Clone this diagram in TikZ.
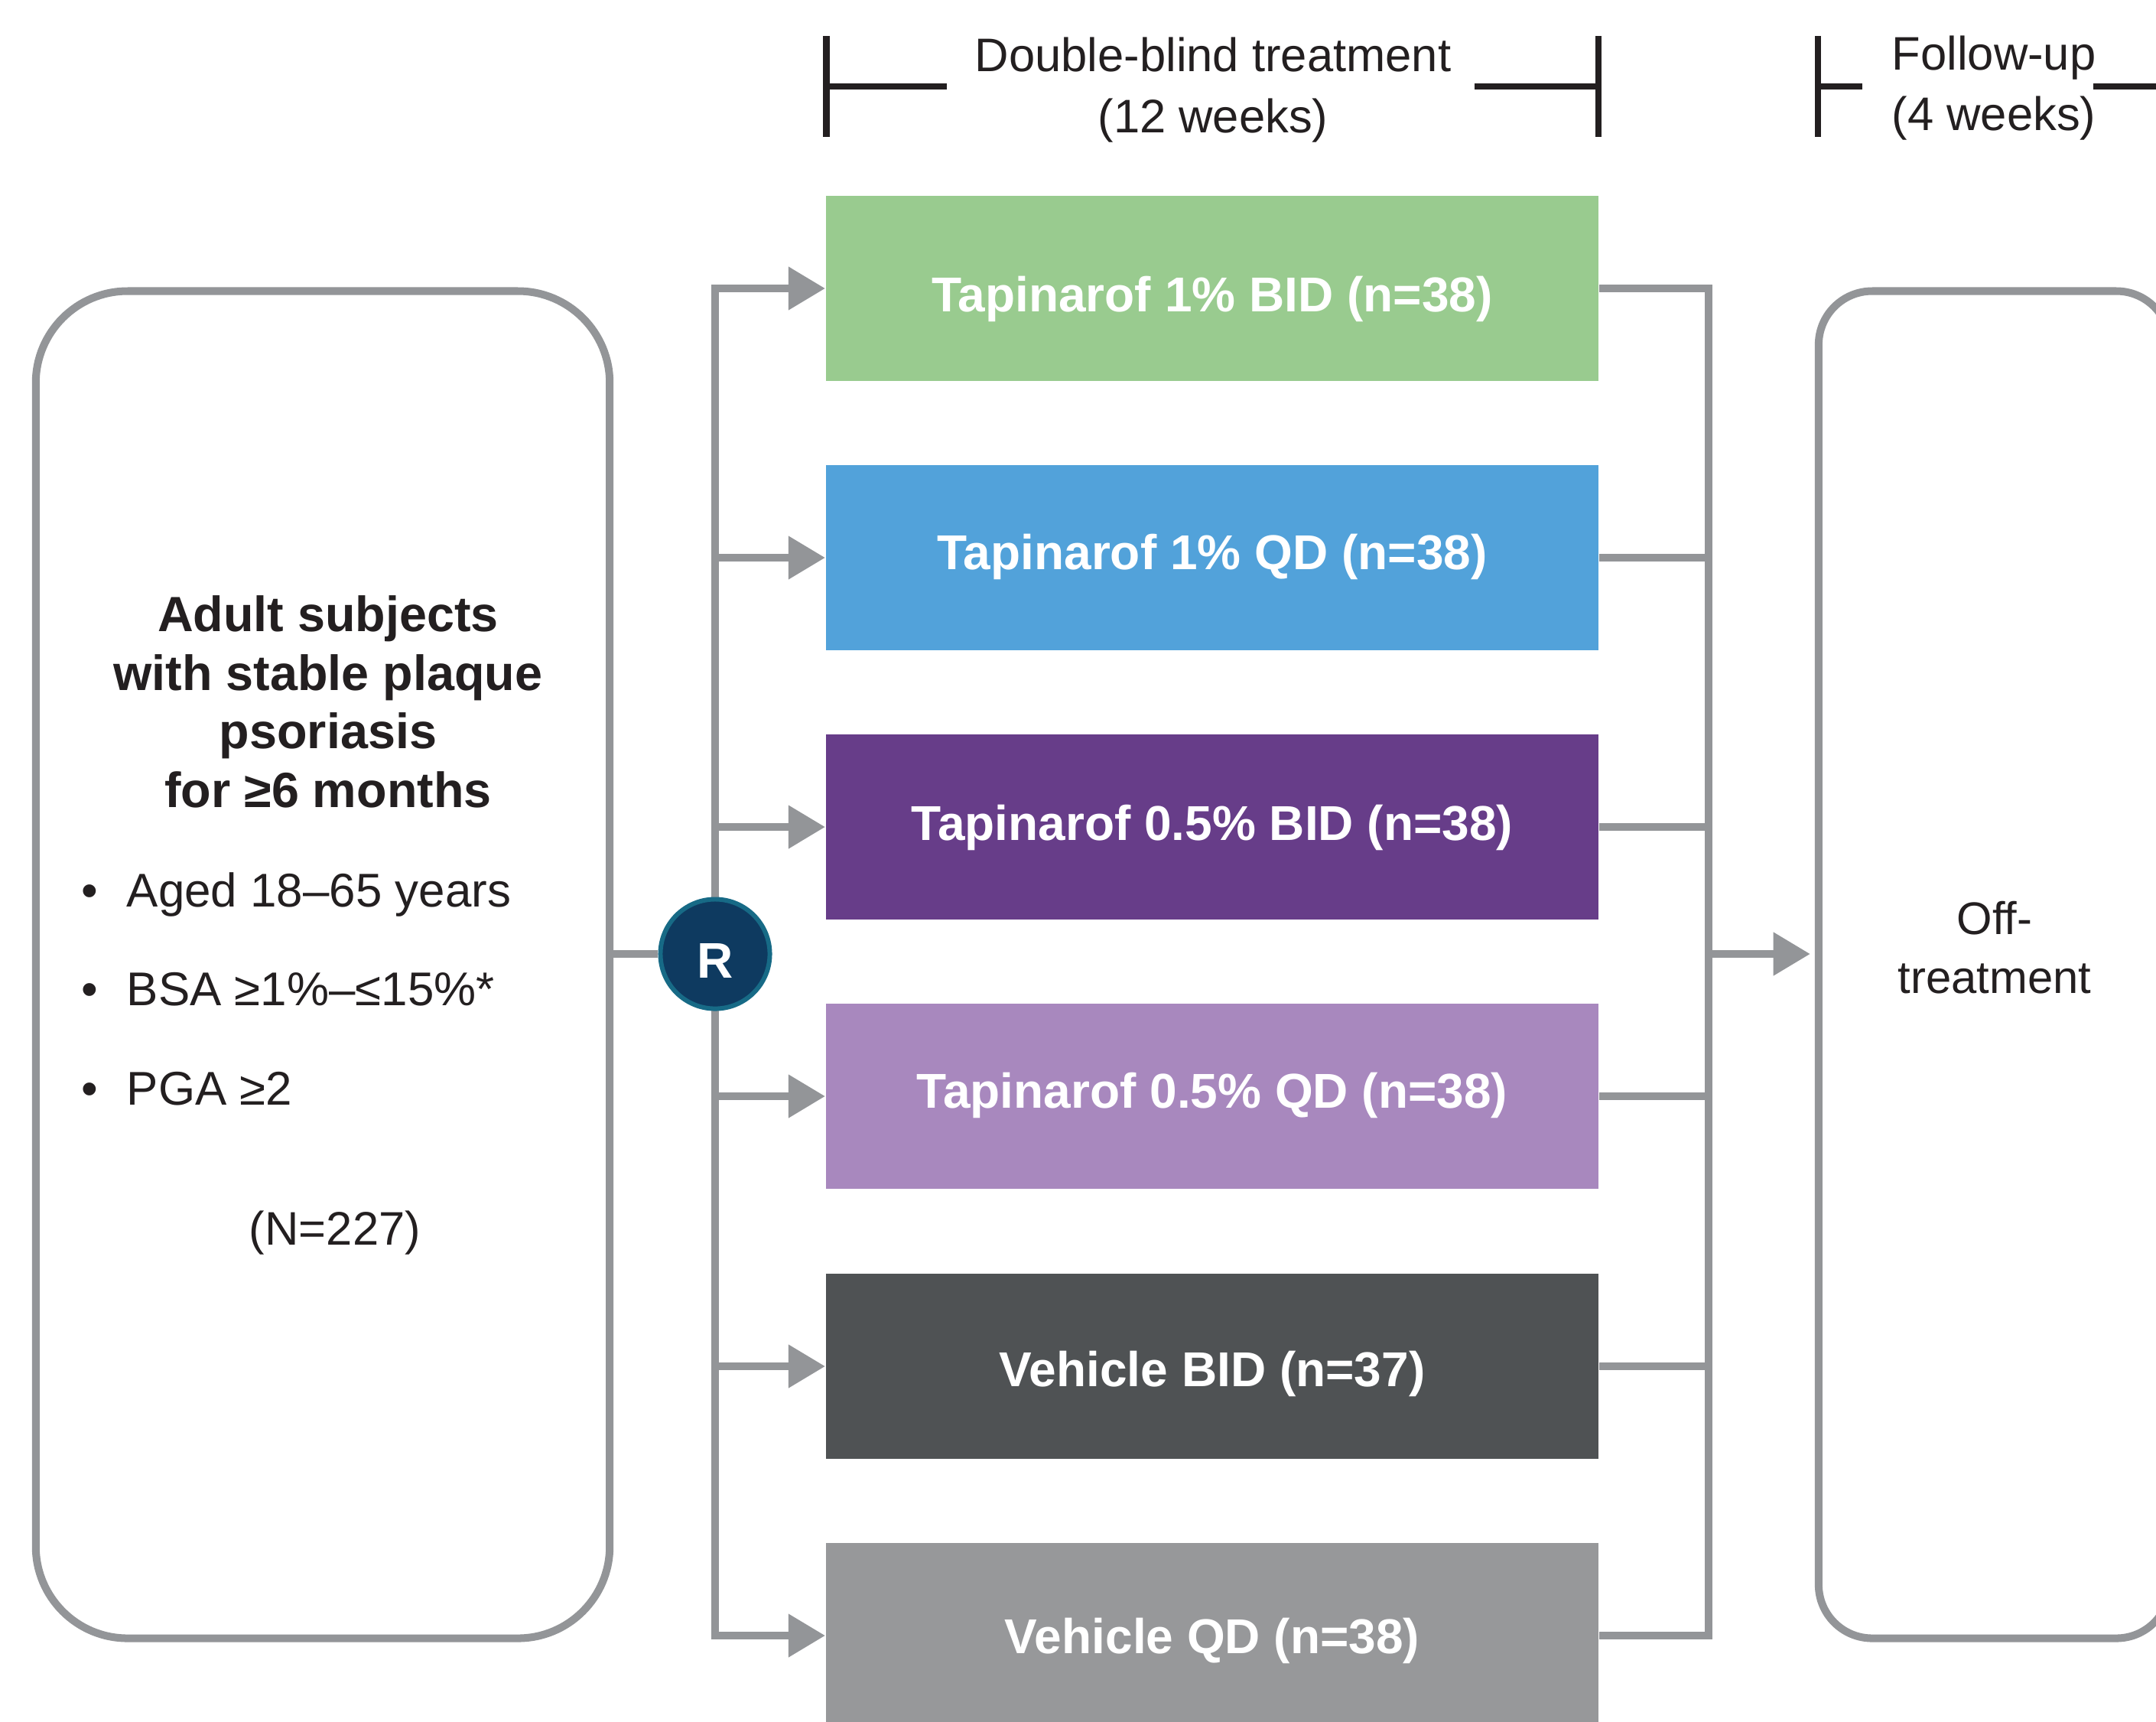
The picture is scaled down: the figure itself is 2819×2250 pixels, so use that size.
\documentclass[tikz,border=0pt]{standalone}
\usepackage{fontspec}
\setmainfont{Liberation Sans}
\usetikzlibrary{arrows.meta}
\definecolor{lgray}{HTML}{939598}
\definecolor{tblack}{HTML}{231F20}
\definecolor{cgreen}{HTML}{99CB8F}
\definecolor{cblue}{HTML}{52A2DA}
\definecolor{cpurple}{HTML}{673D89}
\definecolor{clpurple}{HTML}{A888BE}
\definecolor{cdgray}{HTML}{4F5254}
\definecolor{cmgray}{HTML}{97989A}
\definecolor{navy}{HTML}{0E3A60}
\definecolor{tealb}{HTML}{176A86}
\tikzset{
  hdr/.style={anchor=base, inner sep=0pt, text=tblack, font=\fontsize{17.5}{21}\selectfont},
  tbox/.style={rectangle, inner sep=0pt, minimum width=10.1cm, minimum height=2.42cm, text=white,
    font=\fontsize{18.2}{22}\selectfont\bfseries, text height=13.05pt, text depth=0pt},
  head/.style={anchor=base, inner sep=0pt, text=tblack, font=\fontsize{18.4}{22}\selectfont\bfseries},
  bul/.style={anchor=base west, inner sep=0pt, text=tblack, font=\fontsize{17.6}{21}\selectfont},
  roundbox/.style={draw=lgray, line width=2.85pt, rounded corners=1.2cm, inner sep=0pt},
  conn/.style={draw=lgray, line width=3pt},
  arr/.style={conn, -{Triangle[length=13.7pt,width=15.4pt]}},
  brk/.style={draw=tblack, line width=2.3pt}
}
\begin{document}
\begin{tikzpicture}[x=0.01cm,y=-0.01cm]
\clip (0,0) rectangle (2819,2250);
\fill[white] (0,0) rectangle (2819,2250);

% header brackets
\draw[brk] (1080.5,47) -- (1080.5,179);
\draw[brk] (1080,113) -- (1238,113);
\draw[brk] (1928,113) -- (2090,113);
\draw[brk] (2090,47) -- (2090,179);
\draw[brk] (2377,47) -- (2377,179);
\draw[brk] (2377,113) -- (2435,113);
\draw[brk] (2737,113) -- (2819,113);
\node[hdr] (dbt1) at (1586,93) {Double-blind treatment};
\node[hdr] (dbt2) at (1586,173) {(12 weeks)};
\node[hdr] (fu1) at (2607,91) {Follow-up};
\node[hdr] (fu2) at (2607,170) {(4 weeks)};

% treatment boxes
\node[tbox, fill=cgreen, text height=17.6pt] (t1) at (1585,377) {Tapinarof 1\% BID (n=38)};
\node[tbox, fill=cblue, text depth=4.5pt] (t2) at (1585,729) {Tapinarof 1\% QD (n=38)};
\node[tbox, fill=cpurple, text depth=3.4pt] (t3) at (1585,1081) {Tapinarof 0.5\% BID (n=38)};
\node[tbox, fill=clpurple, text depth=4pt] (t4) at (1585,1433) {Tapinarof 0.5\% QD (n=38)};
\node[tbox, fill=cdgray, text height=14.8pt] (t5) at (1585,1786) {Vehicle BID (n=37)};
\node[tbox, fill=cmgray, text height=13.6pt] (t6) at (1585,2138) {Vehicle QD (n=38)};

% left and right rounded boxes
\node[roundbox, minimum width=7.5cm, minimum height=17.6cm] (lbox) at (422,1261) {};
\node[roundbox, rounded corners=0.7cm, minimum width=4.59cm, minimum height=17.6cm] (obox) at (2607.5,1261) {};

% left box text
\node[head] (h1) at (429,825) {Adult subjects};
\node[head] (h2) at (429,902) {with stable plaque};
\node[head] (h3) at (429,978) {psoriasis};
\node[head] (h4) at (429,1055) {for ≥6 months};
\node[bul] (b1) at (106,1185) {\makebox[16.8pt][l]{\textbullet}Aged 18–65 years};
\node[bul] (b2) at (106,1314) {\makebox[16.8pt][l]{\textbullet}BSA ≥1\%–≤15\%*};
\node[bul] (b3) at (106,1444) {\makebox[16.8pt][l]{\textbullet}PGA ≥2};
\node[hdr] (nn) at (438,1627) {(N=227)};

% right box text
\node[hdr, font=\fontsize{17}{21}\selectfont] (off1) at (2608,1221) {Off-};
\node[hdr, font=\fontsize{17}{21}\selectfont] (off2) at (2608,1298) {treatment};

% buses
\coordinate (lbx) at (935,0);
\coordinate (rbx) at (2234,0);
\coordinate (midy) at (0,1247);
\foreach \i in {1,...,6} {
  \coordinate (lb\i) at (t\i.west -| lbx);
  \coordinate (rb\i) at (t\i.east -| rbx);
}
\foreach \i in {1,...,6} \draw[arr] (lb\i) -- (t\i.west);
\draw[conn, line cap=rect] (lb1) -- (lb6);
\foreach \i in {1,...,6} \draw[conn] (t\i.east) -- (rb\i);
\draw[conn, line cap=rect] (rb1) -- (rb6);
\coordinate (rbm) at (rb1 |- midy);
\draw[arr, shorten >=1.7pt] (rbm) -- (obox.west |- rbm);

% randomisation node
\node[circle, fill=navy, draw=tealb, line width=1.7pt, minimum size=1.43cm, inner sep=0pt,
  text=white, font=\fontsize{18.6}{22}\selectfont\bfseries, text height=17.9pt, text depth=0pt] (R) at (935,1247) {R};
\draw[conn] (lbox.east |- R) -- (R.west);
\end{tikzpicture}
\end{document}
